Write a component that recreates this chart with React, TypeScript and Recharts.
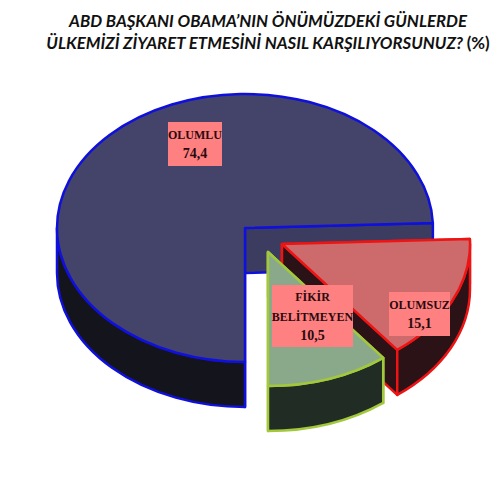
import { PieChart, Pie } from 'recharts';

const categories = ['OLUMLU', 'OLUMSUZ', 'FİKİR BELİTMEYEN'];
const values = [74.4, 15.1, 10.5];

const chartData = categories.map((name, i) => ({ name, value: values[i] }));

// look of each slice, keyed by category
const looks: Record<string, any> = {
  OLUMLU: { top: '#44446a', side: '#14141c', cut: '#3c3c60', line: '#1010dd', width: 2.5, dx: 0, dy: 0 },
  OLUMSUZ: { top: '#cd6b6c', side: '#2a1216', cut: '#2a1216', line: '#ee1414', width: 2.5, dx: 37, dy: 16 },
  'FİKİR BELİTMEYEN': { top: '#8aa98a', side: '#212d24', cut: '#212d24', line: '#a2c83c', width: 2.5, dx: 23, dy: 24 },
};

const labelBoxes: Record<string, any> = {
  OLUMLU: { x: 168, y: 122, w: 54, h: 44, lines: ['OLUMLU'] },
  OLUMSUZ: { x: 389, y: 292, w: 61, h: 44, lines: ['OLUMSUZ'] },
  'FİKİR BELİTMEYEN': { x: 272, y: 285, w: 81, h: 62, lines: ['FİKİR', 'BELİTMEYEN'] },
};

const SQUASH = 134 / 188;
const DEPTH = 45;

function Slice3D(props: any) {
  const { cx, cy, outerRadius, startAngle, endAngle, name } = props;
  const look = looks[name];
  const rx = outerRadius;
  const ry = outerRadius * SQUASH;
  const ox = cx + look.dx;
  const oy = cy + look.dy;
  const hi = Math.max(startAngle, endAngle);
  const lo = Math.min(startAngle, endAngle);
  const pt = (deg: number, drop = 0) => {
    const r = (deg * Math.PI) / 180;
    return `${ox + rx * Math.cos(r)} ${oy - ry * Math.sin(r) + drop}`;
  };
  const arc = (to: number, large: number, sweep: number, drop = 0) =>
    `A ${rx} ${ry} 0 ${large} ${sweep} ${pt(to, drop)}`;

  // curved wall only where the rim faces the viewer
  const walls: string[] = [];
  [-180, 180].forEach((base) => {
    const a = Math.max(lo, base);
    const b = Math.min(hi, base + 180);
    if (b > a) {
      walls.push(`M ${pt(b)} ${arc(a, 0, 1)} L ${pt(a, DEPTH)} ${arc(b, 0, 0, DEPTH)} Z`);
    }
  });
  const cutWall = (deg: number) =>
    `M ${ox} ${oy} L ${pt(deg)} L ${pt(deg, DEPTH)} L ${ox} ${oy + DEPTH} Z`;
  const stroke = { stroke: look.line, strokeWidth: look.width, strokeLinejoin: 'round' as const };

  return (
    <g>
      <path d={cutWall(hi)} fill={look.cut} {...stroke} />
      <path d={cutWall(lo)} fill={look.cut} {...stroke} />
      {walls.map((d) => (
        <path key={d} d={d} fill={look.side} {...stroke} />
      ))}
      <path
        d={`M ${ox} ${oy} L ${pt(hi)} ${arc(lo, hi - lo > 180 ? 1 : 0, 1)} Z`}
        fill={look.top}
        {...stroke}
      />
    </g>
  );
}

function SliceLabel(props: any) {
  const { name, value } = props;
  const box = labelBoxes[name];
  const rows = [...box.lines, String(value).replace('.', ',')];
  const step = 19.5;
  const firstY = box.y + box.h / 2 - ((rows.length - 1) * step) / 2 + 4.5;
  return (
    <g>
      <rect x={box.x} y={box.y} width={box.w} height={box.h} fill="#ff8080" />
      {rows.map((row, i) => (
        <text
          key={row}
          x={box.x + box.w / 2}
          y={firstY + i * step}
          textAnchor="middle"
          fontFamily="'Liberation Serif', serif"
          fontWeight="bold"
          fontSize={i === rows.length - 1 ? 14 : 12}
          fill="#2a0a0e"
        >
          {row}
        </text>
      ))}
    </g>
  );
}

export default function App() {
  return (
    <div style={{ position: 'absolute', left: 0, top: 0, width: 500, height: 500, background: '#fff' }}>
      <div
        style={{
          position: 'absolute',
          left: 18,
          top: 10,
          width: 500,
          textAlign: 'center',
          fontFamily: 'Lato, sans-serif',
          fontWeight: 'bold',
          fontStyle: 'italic',
          fontSize: 16.8,
          lineHeight: '22px',
          color: '#111',
          whiteSpace: 'nowrap',
        }}
      >
        ABD BAŞKANI OBAMA’NIN ÖNÜMÜZDEKİ GÜNLERDE
        <br />
        ÜLKEMİZİ ZİYARET ETMESİNİ NASIL KARŞILIYORSUNUZ? <span style={{ fontStyle: 'normal' }}>(%)</span>
      </div>
      <PieChart width={500} height={500} margin={{ top: 0, right: 0, bottom: 0, left: 0 }}>
        <Pie
          data={chartData}
          dataKey="value"
          nameKey="name"
          cx={245}
          cy={228}
          outerRadius={188}
          startAngle={270}
          endAngle={-90}
          shape={Slice3D}
          label={SliceLabel}
          labelLine={false}
          isAnimationActive={false}
        />
      </PieChart>
    </div>
  );
}
